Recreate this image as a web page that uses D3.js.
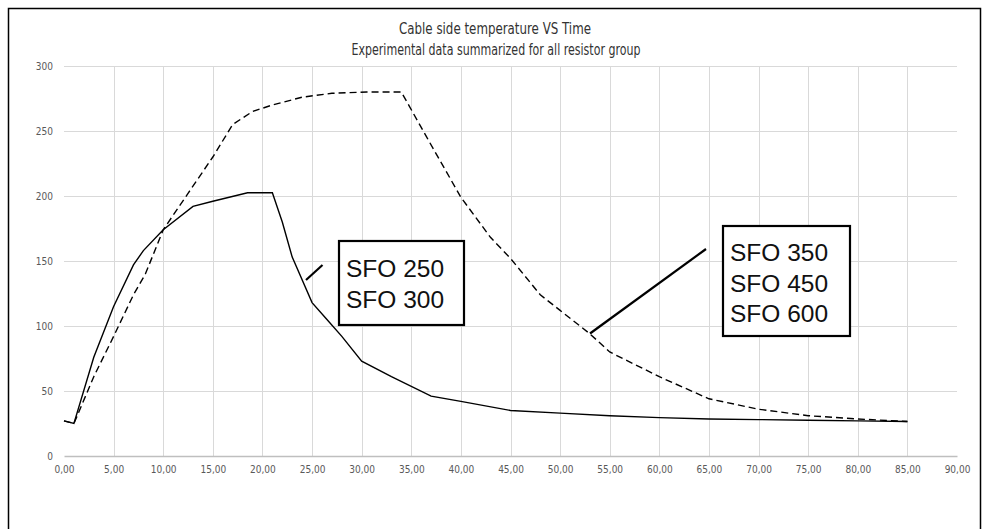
<!DOCTYPE html>
<html>
<head>
<meta charset="utf-8">
<script src="https://cdn.jsdelivr.net/npm/d3@7"></script>
<style>
  body { margin: 0; background: #fff; }
  svg { display: block; }
  .grid line { stroke: #d9d9d9; stroke-width: 1; }
  .tick text { fill: #595959; font-family: "Liberation Sans Narrow", "DejaVu Sans Condensed", sans-serif; font-size: 10px; }
</style>
</head>
<body>
<div id="chart"></div>
<script>
// time (x) and temperature (y)
var timeLow  = [0, 1, 3, 5, 7, 8, 10, 13, 15, 18.5, 21, 22, 23, 25, 26.5, 28, 30, 33, 37, 40, 45, 50, 55, 60, 65, 70, 75, 80, 85];
var tempLow  = [27, 25, 76, 115, 147, 158, 174, 192, 196, 202.5, 202.5, 180, 153, 118, 105, 92, 73, 61, 46, 42, 35, 33, 31, 29.5, 28.5, 28, 27.5, 27, 26.5];
var timeHigh = [0, 1, 3, 5, 7, 8.2, 10, 12.5, 15, 17, 19, 21, 24, 27, 30.5, 34, 36.5, 40, 43, 45, 48, 50, 53, 55, 60, 65, 70, 75, 80, 85];
var tempHigh = [27, 25, 61, 92, 124, 140, 174, 202, 230, 255, 265, 270, 276, 279, 280, 280, 246, 199, 168, 152, 124, 112, 94, 80, 61, 44, 36, 31, 28.5, 26.5];
var labelLow  = ["SFO 250", "SFO 300"];
var labelHigh = ["SFO 350", "SFO 450", "SFO 600"];
var xTicks = d3.range(0, 91, 5);
var yTicks = d3.range(0, 301, 50);

var width = 992, height = 529;

var svg = d3.select("#chart").append("svg")
    .attr("width", width)
    .attr("height", height);

// outer frame
svg.append("rect")
    .attr("x", 8.5).attr("y", 8.5)
    .attr("width", 972).attr("height", 560)
    .attr("fill", "none")
    .attr("stroke", "#000")
    .attr("stroke-width", 1.5);

var x = d3.scaleLinear().domain([0, 90]).range([64, 957]);
var y = d3.scaleLinear().domain([0, 300]).range([456, 66]);

// gridlines
svg.append("g").attr("class", "grid")
  .selectAll("line.h").data(yTicks.slice(1))
  .enter().append("line")
    .attr("x1", x(0)).attr("x2", x(90))
    .attr("y1", function(d) { return Math.round(y(d)) + 0.5; })
    .attr("y2", function(d) { return Math.round(y(d)) + 0.5; });

svg.append("g").attr("class", "grid")
  .selectAll("line.v").data(xTicks.slice(1, -1))
  .enter().append("line")
    .attr("y1", y(0)).attr("y2", y(300))
    .attr("x1", function(d) { return Math.round(x(d)) + 0.5; })
    .attr("x2", function(d) { return Math.round(x(d)) + 0.5; });

var fmt = function(d) { return d3.format(".2f")(d).replace(".", ","); };

var xAxis = svg.append("g")
    .attr("transform", "translate(0," + y(0) + ")")
    .call(d3.axisBottom(x).tickValues(xTicks).tickFormat(fmt).tickSize(0).tickPadding(10));
xAxis.select(".domain").attr("stroke", "#bfbfbf").attr("stroke-width", 1.5);

var yAxis = svg.append("g")
    .attr("transform", "translate(" + 55 + ",0)")
    .call(d3.axisLeft(y).tickValues(yTicks).tickSize(0).tickPadding(2));
yAxis.select(".domain").remove();

// title
var title = svg.append("g")
    .attr("font-family", "'Liberation Sans Narrow', 'DejaVu Sans Condensed', sans-serif")
    .attr("font-size", 15)
    .attr("fill", "#333")
    .attr("text-anchor", "middle");
title.append("text").attr("x", 495).attr("y", 34)
    .attr("textLength", 192).attr("lengthAdjust", "spacingAndGlyphs")
    .text("Cable side temperature VS Time");
title.append("text").attr("x", 496).attr("y", 55)
    .attr("textLength", 289).attr("lengthAdjust", "spacingAndGlyphs")
    .text("Experimental data summarized for all resistor group");

// lines
var line = d3.line()
    .x(function(d) { return x(d[0]); })
    .y(function(d) { return y(d[1]); });

svg.append("path")
    .datum(d3.zip(timeHigh, tempHigh))
    .attr("d", line)
    .attr("fill", "none")
    .attr("stroke", "#000")
    .attr("stroke-width", 1.4)
    .attr("stroke-dasharray", "7,4");

svg.append("path")
    .datum(d3.zip(timeLow, tempLow))
    .attr("d", line)
    .attr("fill", "none")
    .attr("stroke", "#000")
    .attr("stroke-width", 1.4);

// annotation boxes
function callout(lines, box, lead) {
  var g = svg.append("g");
  g.append("line")
      .attr("x1", lead[0]).attr("y1", lead[1])
      .attr("x2", lead[2]).attr("y2", lead[3])
      .attr("stroke", "#000").attr("stroke-width", 2.2);
  g.append("rect")
      .attr("x", box[0]).attr("y", box[1])
      .attr("width", box[2]).attr("height", box[3])
      .attr("fill", "#fff")
      .attr("stroke", "#000").attr("stroke-width", 2.2);
  g.selectAll("text").data(lines)
    .enter().append("text")
      .attr("x", box[0] + 7)
      .attr("y", function(d, i) { return box[4] + i * 30.5; })
      .attr("font-family", "'Liberation Sans', Arial, sans-serif")
      .attr("font-size", 24.5)
      .attr("fill", "#111")
      .text(function(d) { return d; });
}

callout(labelLow, [339, 241, 125, 84, 277], [306, 280, 322.5, 265]);
callout(labelHigh, [723, 226, 127, 110, 261], [590, 333.5, 706, 249]);
</script>
</body>
</html>
